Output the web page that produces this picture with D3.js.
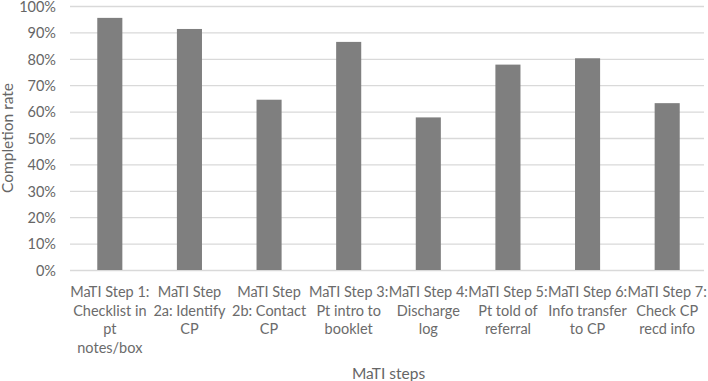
<!DOCTYPE html>
<html>
<head>
<meta charset="utf-8">
<script src="https://cdn.jsdelivr.net/npm/d3@7"></script>
<style>
  body { margin: 0; background: #fff; }
  text { font-family: Lato, "Open Sans", sans-serif; fill: #666; }
</style>
</head>
<body>
<div id="viz"></div>
<script>
// MaTI steps, each label already wrapped the way the original chart wraps it
const stepLabels = [
    ["MaTI Step 1:", "Checklist in", "pt", "notes/box"],
    ["MaTI Step", "2a: Identify", "CP"],
    ["MaTI Step", "2b: Contact", "CP"],
    ["MaTI Step 3:", "Pt intro to", "booklet"],
    ["MaTI Step 4:", "Discharge", "log"],
    ["MaTI Step 5:", "Pt told of", "referral"],
    ["MaTI Step 6:", "Info transfer", "to CP"],
    ["MaTI Step 7:", "Check CP", "recd info"]
];

const completionRates = [0.955, 0.913, 0.645, 0.864, 0.578, 0.778, 0.802, 0.632];

const yTicks = [0, 0.1, 0.2, 0.3, 0.4, 0.5, 0.6, 0.7, 0.8, 0.9, 1.0];

const steps = stepLabels.map((lines, i) => ({
    name: lines.join(" "),
    lines: lines,
    value: completionRates[i]
}));

const width = 708;
const height = 381;

const margin = { left: 70, right: 1, top: 6, bottom: 111 };

const svg = d3.select("#viz").append("svg")
    .attr("width", width)
    .attr("height", height);

const xScale = d3.scaleBand()
    .domain(steps.map(d => d.name))
    .range([margin.left, width - margin.right])
    .padding(0);

const yScale = d3.scaleLinear()
    .domain([0, 1])
    .range([height - margin.bottom, margin.top]);

// gridlines + tick labels
const yAxis = svg.append("g")
    .attr("class", "axis axis--y")
    .attr("transform", `translate(${margin.left},0)`)
    .call(d3.axisLeft(yScale).tickValues(yTicks).tickFormat(d3.format(".0%")).tickSize(0).tickPadding(14));

yAxis.select(".domain").remove();
yAxis.selectAll(".tick line")
    .attr("x2", width - margin.right - margin.left - 3)
    .attr("stroke", "#d9d9d9")
    .attr("stroke-width", 1.3);
yAxis.selectAll(".tick text")
    .style("font-size", "14.5px")
    .attr("dy", "0.36em")
    .attr("fill", "#6b6b6b");

const barWidth = xScale.bandwidth() * 0.315;

svg.selectAll(".step-bar")
    .data(steps)
    .join("rect")
        .attr("class", "step-bar")
        .attr("x", d => xScale(d.name) + (xScale.bandwidth() - barWidth) / 2)
        .attr("y", d => yScale(d.value))
        .attr("width", barWidth)
        .attr("height", d => yScale(0) - yScale(d.value))
        .attr("fill", "#7f7f7f");

// category labels, one tspan per line
const gLabel = svg.selectAll(".step-label")
    .data(steps)
    .join("text")
        .attr("class", "step-label")
        .attr("text-anchor", "middle")
        .style("font-size", "14.5px")
        .style("fill", "#6b6b6b")
        .attr("transform", d => `translate(${xScale(d.name) + xScale.bandwidth() / 2},${yScale(0) + 27})`);

gLabel.selectAll("tspan")
    .data(d => d.lines)
    .join("tspan")
        .attr("x", 0)
        .attr("y", (d, i) => i * 18.7)
        .text(d => d);

svg.append("text")
    .attr("class", "x axis-title")
    .attr("text-anchor", "middle")
    .style("font-size", "15.5px")
    .attr("transform", `translate(${(margin.left + width - margin.right) / 2},${height - 2})`)
    .text("MaTI steps");

svg.append("text")
    .attr("class", "y axis-title")
    .attr("text-anchor", "middle")
    .style("font-size", "15.5px")
    .attr("transform", `translate(13,${(yScale(0) + yScale(1)) / 2}) rotate(-90)`)
    .text("Completion rate");
</script>
</body>
</html>
